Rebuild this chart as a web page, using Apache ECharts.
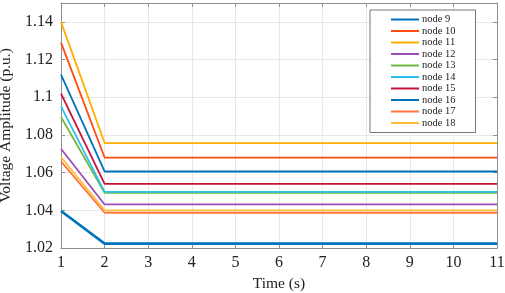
<!DOCTYPE html>
<html>
<head>
<meta charset="utf-8">
<style>
  html, body { margin: 0; padding: 0; background: #fff; }
  #chart { width: 505px; height: 293px; }
</style>
<script src="https://cdn.jsdelivr.net/npm/echarts@6/dist/echarts.min.js"></script>
</head>
<body>
<div id="chart"></div>
<script>
// time stamps (s): step at 1 s, settled from 2 s to 11 s
const times = [1, 2, 11]

// voltage amplitude (p.u.) for each node
const node9 = [1.112, 1.0606, 1.0606]
const node10 = [1.129, 1.068, 1.068]
const node11 = [1.14, 1.0757, 1.0757]
const node12 = [1.0727, 1.0431, 1.0431]
const node13 = [1.0895, 1.0493, 1.0493]
const node14 = [1.0951, 1.0498, 1.0498]
const node15 = [1.1019, 1.054, 1.054]
const node16 = [1.0396, 1.0223, 1.0223]
const node17 = [1.066, 1.0387, 1.0387]
const node18 = [1.0683, 1.04, 1.04]

const nodeNames = ['node 9', 'node 10', 'node 11', 'node 12', 'node 13',
  'node 14', 'node 15', 'node 16', 'node 17', 'node 18']
const nodeValues = [node9, node10, node11, node12, node13,
  node14, node15, node16, node17, node18]
const colors = ['#0072BD', '#FF4A10', '#FFAE00', '#9A4DB8', '#74B840',
  '#2CC0F0', '#C8123A', '#0072BD', '#FF7440', '#FFBE3A']
const widths = [1.8, 1.8, 1.8, 1.8, 1.8, 1.8, 1.8, 2.6, 1.8, 1.8]

const font = 'Liberation Serif'
const frame = '#8f8f8f'

const chart = echarts.init(document.getElementById('chart'))

const series = nodeNames.map((name, i) => ({
  name: name,
  type: 'line',
  data: times.map((t, k) => [t, nodeValues[i][k]]),
  showSymbol: false,
  symbol: 'none',
  lineStyle: { color: colors[i], width: widths[i] },
  itemStyle: { color: colors[i] },
  z: 3
}))

chart.setOption({
  animation: false,
  backgroundColor: '#fff',
  textStyle: { fontFamily: font },
  grid: { left: 61, right: 8, top: 3, bottom: 45, containLabel: false, outerBoundsMode: 'none' },
  legend: {
    orient: 'vertical',
    left: 370,
    top: 10,
    padding: [4, 20, 4, 21],
    itemGap: 0.5,
    itemWidth: 28,
    itemHeight: 2,
    icon: 'rect',
    backgroundColor: '#fff',
    borderColor: '#777',
    borderWidth: 1,
    textStyle: { fontFamily: font, fontSize: 10.5, color: '#222', padding: [0, 0, 0, -2], lineHeight: 10 },
    data: nodeNames
  },
  xAxis: [
    {
      type: 'value',
      min: 1,
      max: 11,
      interval: 1,
      name: 'Time (s)',
      nameLocation: 'middle',
      nameGap: 22,
      nameTextStyle: { fontFamily: font, fontSize: 15.5, color: '#222' },
      axisLine: { show: true, onZero: false, lineStyle: { color: frame, width: 1 } },
      axisTick: { show: true, inside: true, length: 4, lineStyle: { color: frame } },
      axisLabel: { fontFamily: font, fontSize: 16, color: '#222', margin: 7 },
      splitLine: { show: true, lineStyle: { color: '#e8e8e8', width: 1 } }
    },
    {
      type: 'value',
      position: 'top',
      min: 1,
      max: 11,
      interval: 1,
      axisLine: { show: true, onZero: false, lineStyle: { color: frame, width: 1 } },
      axisTick: { show: true, inside: true, length: 4, lineStyle: { color: frame } },
      axisLabel: { show: false },
      splitLine: { show: false }
    }
  ],
  yAxis: [
    {
      type: 'value',
      min: 1.02,
      max: 1.15,
      interval: 0.02,
      name: 'Voltage Amplitude (p.u.)',
      nameLocation: 'middle',
      nameGap: 41,
      nameTextStyle: { fontFamily: font, fontSize: 15.5, color: '#222' },
      axisLine: { show: true, onZero: false, lineStyle: { color: frame, width: 1 } },
      axisTick: { show: true, inside: true, length: 4, lineStyle: { color: frame } },
      axisLabel: { fontFamily: font, fontSize: 16, color: '#222', margin: 8, showMaxLabel: false },
      splitLine: { show: true, lineStyle: { color: '#e8e8e8', width: 1 } }
    },
    {
      type: 'value',
      position: 'right',
      min: 1.02,
      max: 1.15,
      interval: 0.02,
      axisLine: { show: true, onZero: false, lineStyle: { color: frame, width: 1 } },
      axisTick: { show: true, inside: true, length: 4, lineStyle: { color: frame } },
      axisLabel: { show: false },
      splitLine: { show: false }
    }
  ],
  series: series
})
</script>
</body>
</html>
